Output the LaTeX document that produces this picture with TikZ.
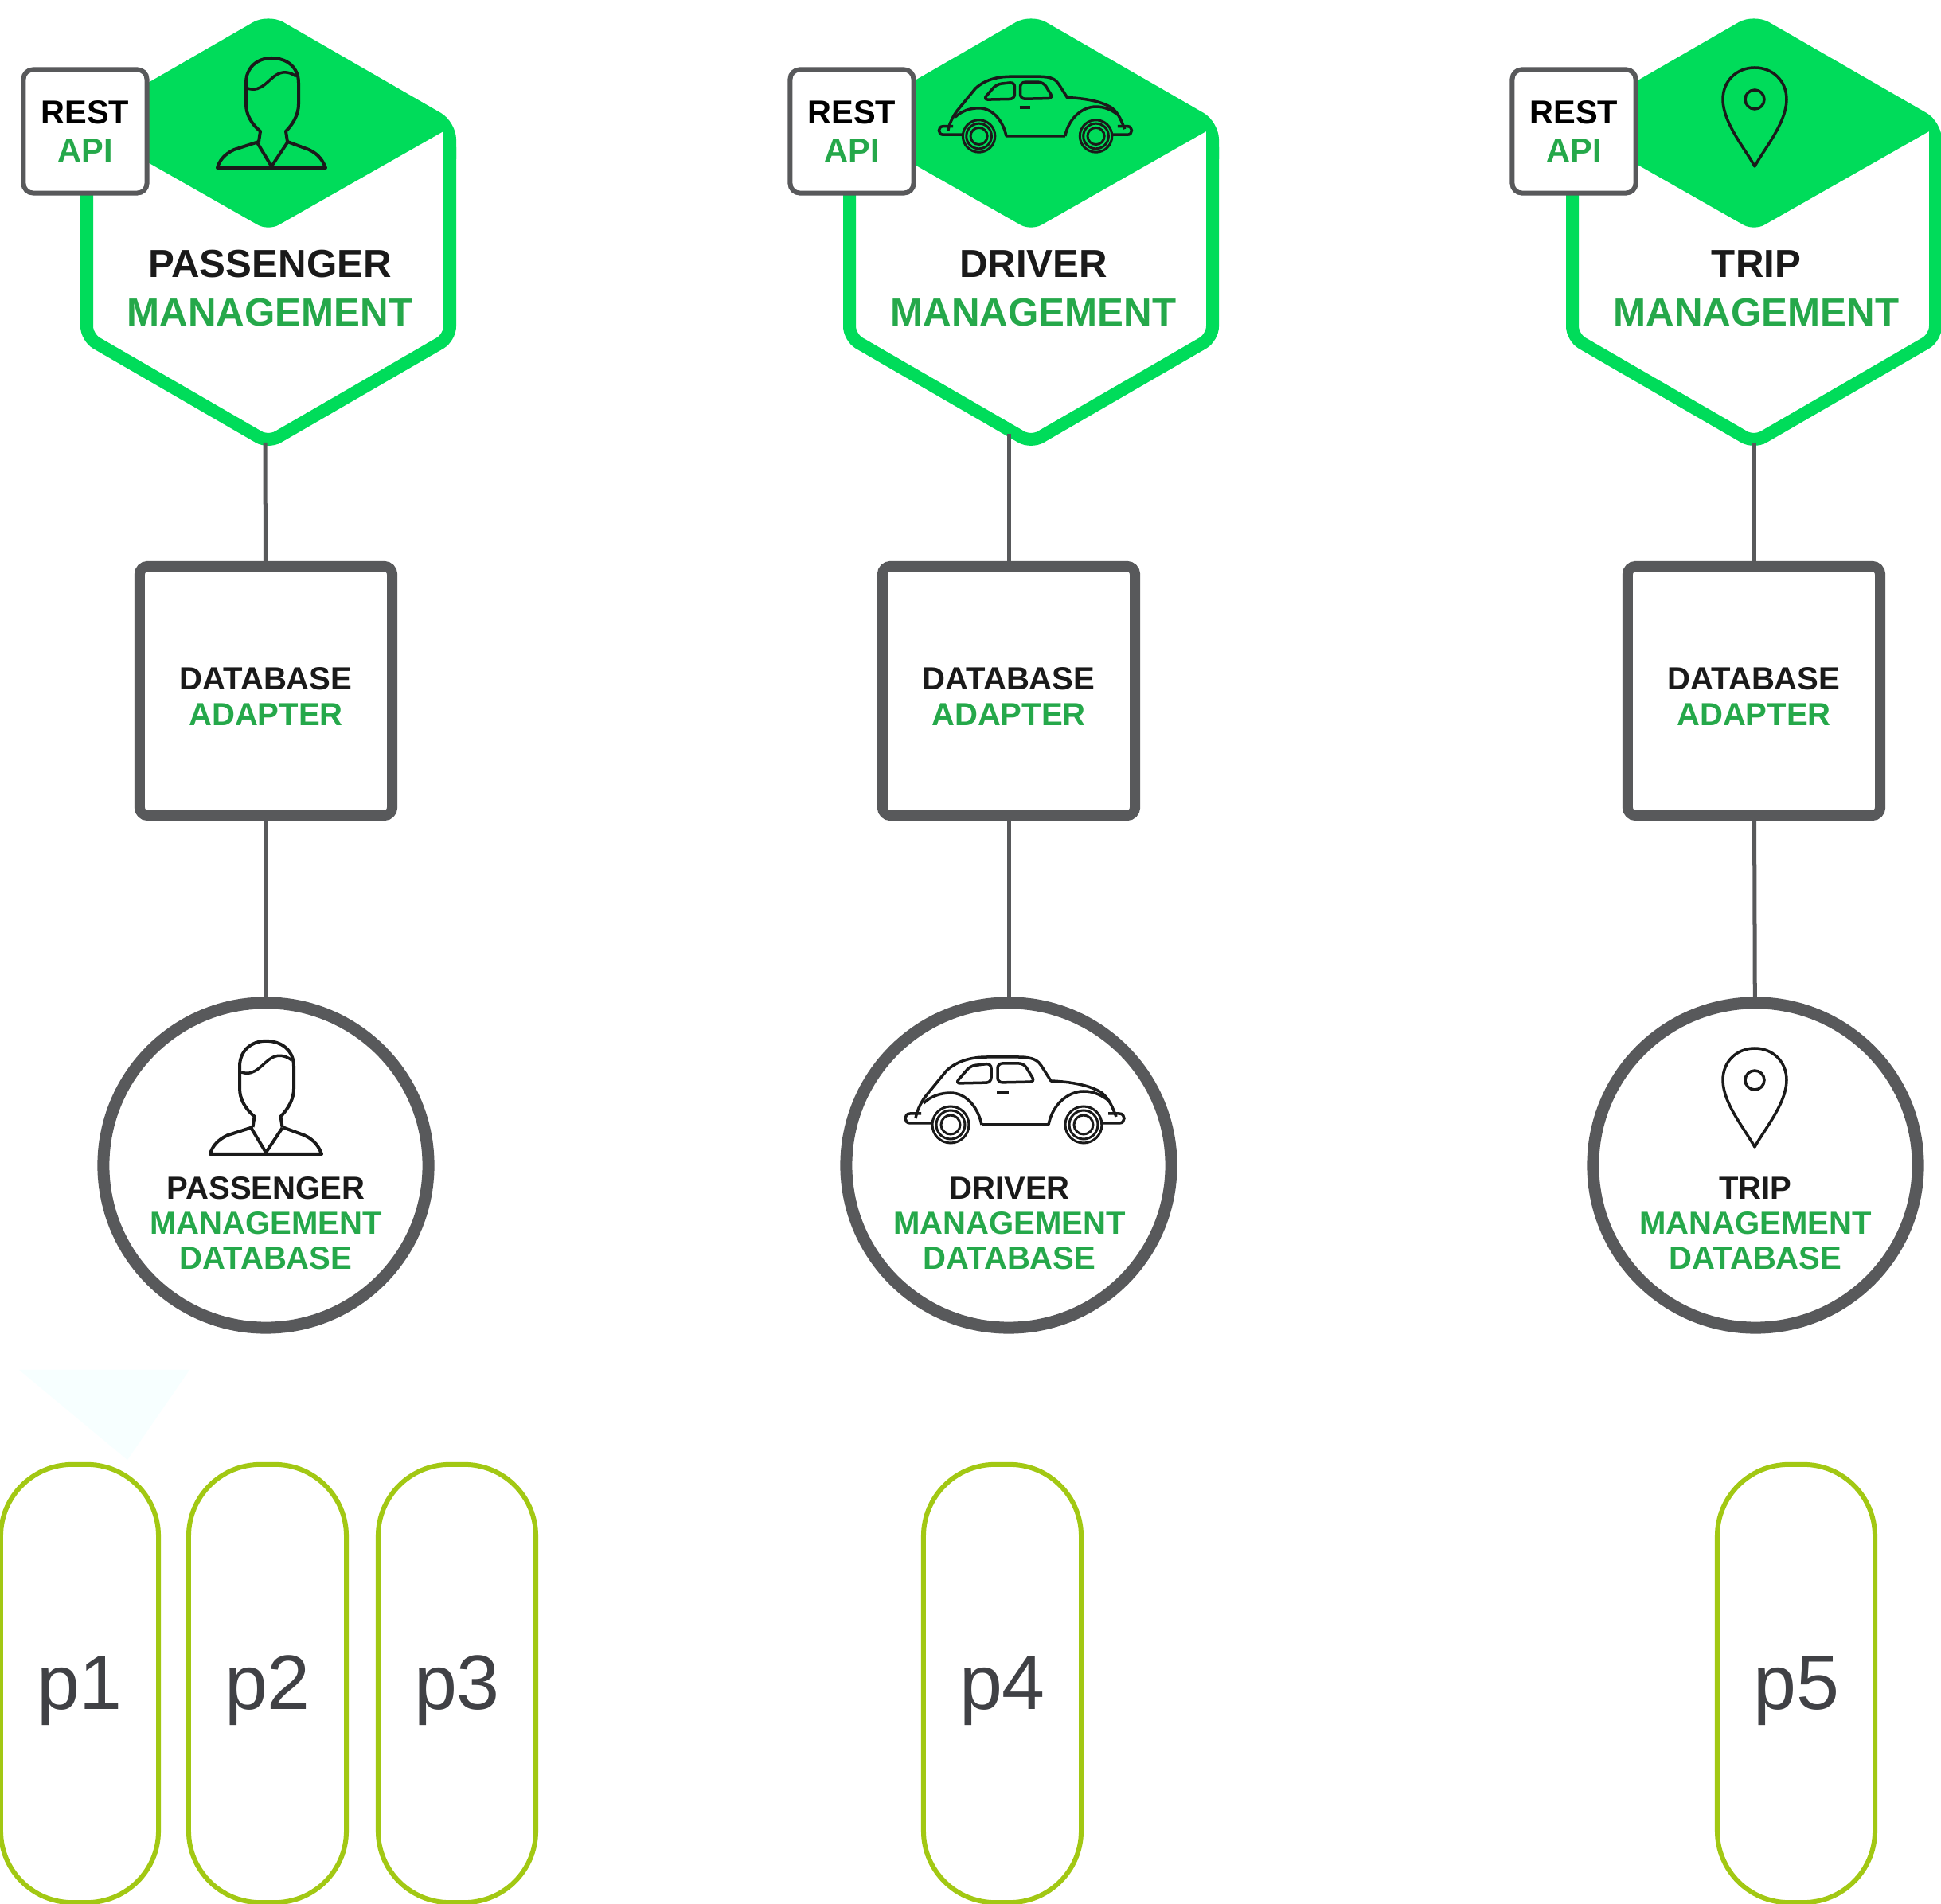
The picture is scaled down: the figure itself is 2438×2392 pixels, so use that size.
\documentclass[tikz,border=0pt]{standalone}
\usepackage{fontspec}
\setmainfont{Liberation Sans}
\usetikzlibrary{calc}

\definecolor{hexgreen}{HTML}{00DC5A}
\definecolor{textgreen}{HTML}{25A84A}
\definecolor{boxgray}{HTML}{58595B}
\definecolor{pillgreen}{HTML}{A2C813}
\definecolor{pilltext}{HTML}{404145}
\definecolor{inkblack}{HTML}{1A1A1A}

\begin{document}
\begin{tikzpicture}[
        x=0.01cm, y=-0.01cm,
        link/.style={boxgray, line width=0.05cm},
        rest box/.style={draw=boxgray, fill=white, line width=0.06cm, rounded corners=0.12cm,
            minimum width=1.55cm, minimum height=1.55cm, inner sep=0pt, align=center, font=\fontsize{11.8pt}{13.4pt}\bfseries},
        adapter box/.style={draw=boxgray, fill=white, line width=0.13cm, rounded corners=0.1cm,
            minimum width=3.17cm, minimum height=3.13cm},
        db circle/.style={draw=boxgray, fill=white, circle, line width=0.15cm, minimum size=4.08cm},
        pill/.style={draw=pillgreen, line width=0.06cm, rounded corners=0.9cm,
            minimum width=1.98cm, minimum height=5.5cm, text=pilltext, text height=0.64cm, text depth=0pt,
            font=\fontsize{27.6pt}{30pt}\selectfont},
        title text/.style={align=center, inkblack, font=\fontsize{14pt}{17.4pt}\bfseries},
        adapter text/.style={align=center, inkblack, font=\fontsize{11.4pt}{12.8pt}\bfseries},
        db text/.style={align=center, inkblack, font=\fontsize{11.4pt}{12.5pt}\bfseries},
        service hex/.pic={
            \draw[hexgreen, line width=0.16cm, rounded corners=0.14cm]
                (-228,185) -- (-228,424) -- (0,556) -- (228,424) -- (228,185);
            \fill[hexgreen] [rounded corners=0.22cm] (0,17) -- (236,153) [sharp corners] -- (236,200)
                -- (220,200) -- (220,165) [rounded corners=0.15cm] -- (0,290) [sharp corners]
                -- (-220,165) -- (-220,200) -- (-236,200) [rounded corners=0.22cm] -- (-236,153) -- cycle;
        },
        person/.pic={
            \draw[inkblack, line width=0.04cm, line join=round]
                (-16,-33) -- (-14,-46) .. controls (-26,-56) and (-32,-68) .. (-32,-80) -- (-32,-107)
                .. controls (-32,-126) and (-18,-138) .. (0,-138) .. controls (20,-138) and (34,-126) .. (34,-107)
                -- (34,-80) .. controls (34,-68) and (28,-56) .. (18,-46) -- (20,-33);
            \draw[inkblack, line width=0.04cm, line join=round]
                (-16,-33) -- (-47,-23) .. controls (-60,-17) and (-66,-8) .. (-68,0) -- (68,0)
                .. controls (65,-8) and (60,-17) .. (47,-23) -- (20,-33);
            \draw[inkblack, line width=0.04cm, line join=round] (-18,-32) -- (0,-2) -- (20,-32);
            \draw[inkblack, line width=0.035cm]
                (-30,-100) .. controls (-12,-94) and (-4,-112) .. (8,-118) .. controls (16,-122) and (24,-120) .. (31,-115);
        },
        car/.pic={
            \draw[inkblack, line width=0.035cm, line join=round]
                (-124,-8) .. controls (-122,-20) and (-115,-32) .. (-108,-40) -- (-85,-68)
                .. controls (-70,-82) and (-50,-85) .. (-34,-85) -- (5,-85)
                .. controls (25,-85) and (30,-80) .. (34,-74) -- (46,-55)
                .. controls (70,-54) and (95,-50) .. (110,-40) .. controls (120,-32) and (124,-20) .. (128,-10);
            \draw[inkblack, line width=0.035cm]
                (-41,0) -- (43,0)
                (-114,-27) .. controls (-105,-36) and (-92,-40) .. (-80,-40)
                .. controls (-62,-40) and (-46,-24) .. (-41,0)
                (43,0) .. controls (48,-26) and (68,-42) .. (87,-42)
                .. controls (100,-42) and (110,-37) .. (119,-30);
            \draw[inkblack, line width=0.035cm, rounded corners=0.06cm]
                (-74,-52) -- (-55,-74) -- (-29,-77) -- (-29,-53) -- cycle
                (-21,-77) -- (12,-77) -- (26,-54) -- (-21,-53) -- cycle;
            \draw[inkblack, line width=0.035cm] (-22,-41) -- (-7,-41);
            \draw[inkblack, line width=0.035cm]
                (-117,-14) -- (-131,-14) .. controls (-139,-14) and (-139,-2) .. (-131,-2) -- (-104,-2)
                (118,-14) -- (132,-14) .. controls (140,-14) and (140,-2) .. (132,-2) -- (108,-2);
            \draw[inkblack, line width=0.03cm, fill=none]
                (-80,0) circle (23) (-80,0) circle (18) (-80,0) circle (12)
                (87,0) circle (23) (87,0) circle (18) (87,0) circle (12);
        },
        pin/.pic={
            \draw[inkblack, line width=0.035cm, line join=round]
                (0,0) .. controls (-12,-22) and (-40,-55) .. (-40,-84)
                .. controls (-40,-108) and (-22,-124) .. (0,-124)
                .. controls (22,-124) and (40,-108) .. (40,-84)
                .. controls (40,-55) and (12,-22) .. (0,0) -- cycle;
            \draw[inkblack, line width=0.035cm] (0,-84) circle (12);
        }
    ]
    \useasboundingbox (0,0) rectangle (2438,2392);

    \fill[white] (0,0) rectangle (2438,2392);
    \fill[blue!3!cyan!3!white] (24,1721) -- (238,1721) -- (160,1834) -- cycle;

    %% passenger
    \pic at (337,0) {service hex};
    \pic at (341,211) {person};
    \coordinate (hex1) at (333,556);
    \draw (107,165) node(rest1)[rest box]{REST\\\textcolor{textgreen}{API}};
    \draw (339,362) node(title1)[title text]{PASSENGER\\\textcolor{textgreen}{MANAGEMENT}};
    \draw (334,868) node(adapter1)[adapter box]{};
    \draw (334,875) node(adaptertext1)[adapter text]{DATABASE\\\textcolor{textgreen}{ADAPTER}};
    \draw (334,1464) node(db1)[db circle]{};
    \pic[scale=1.03] at (334,1450) {person};
    \draw (334,1537) node(dbtext1)[db text]{PASSENGER\\\textcolor{textgreen}{MANAGEMENT}\\\textcolor{textgreen}{DATABASE}};
    \draw[link] (hex1) -- (adapter1);
    \draw[link] (adapter1) -- (db1);

    %% driver
    \pic at (1295,0) {service hex};
    \pic[scale=0.88] at (1300,171) {car};
    \coordinate (hex2) at (1267,545);
    \draw (1070,165) node(rest2)[rest box]{REST\\\textcolor{textgreen}{API}};
    \draw (1298,362) node(title2)[title text]{DRIVER\\\textcolor{textgreen}{MANAGEMENT}};
    \draw (1267,868) node(adapter2)[adapter box]{};
    \draw (1267,875) node(adaptertext2)[adapter text]{DATABASE\\\textcolor{textgreen}{ADAPTER}};
    \draw (1267,1464) node(db2)[db circle]{};
    \pic at (1274,1413) {car};
    \draw (1268,1537) node(dbtext2)[db text]{DRIVER\\\textcolor{textgreen}{MANAGEMENT}\\\textcolor{textgreen}{DATABASE}};
    \draw[link] (hex2) -- (adapter2);
    \draw[link] (adapter2) -- (db2);

    %% trip
    \pic at (2203,0) {service hex};
    \pic at (2204,209) {pin};
    \coordinate (hex3) at (2203,556);
    \draw (1977,165) node(rest3)[rest box]{REST\\\textcolor{textgreen}{API}};
    \draw (2206,362) node(title3)[title text]{TRIP\\\textcolor{textgreen}{MANAGEMENT}};
    \draw (2203,868) node(adapter3)[adapter box]{};
    \draw (2203,875) node(adaptertext3)[adapter text]{DATABASE\\\textcolor{textgreen}{ADAPTER}};
    \draw (2205,1464) node(db3)[db circle]{};
    \pic at (2204,1441) {pin};
    \draw (2205,1537) node(dbtext3)[db text]{TRIP\\\textcolor{textgreen}{MANAGEMENT}\\\textcolor{textgreen}{DATABASE}};
    \draw[link] (hex3) -- (adapter3);
    \draw[link] (adapter3) -- (db3);

    %% partitions
    \draw (100,2115) node(p1)[pill]{p1};
    \draw (336,2115) node(p2)[pill]{p2};
    \draw (574,2115) node(p3)[pill]{p3};
    \draw (1259,2115) node(p4)[pill]{p4};
    \draw (2256,2115) node(p5)[pill]{p5};
\end{tikzpicture}
\end{document}
